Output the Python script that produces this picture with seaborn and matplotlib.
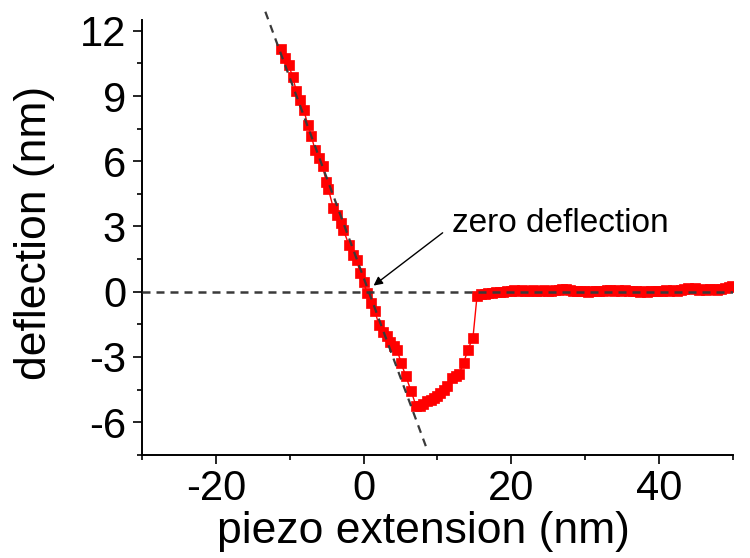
import numpy as np
import pandas as pd
import matplotlib
matplotlib.use("Agg")
import matplotlib.pyplot as plt
import seaborn as sns

# ---- data ----
approach_x = [-11.2, -10.7, -10.15, -9.6, -9.1, -8.65, -8.1, -7.57, -7.07, -6.57,
              -6.04, -5.54, -5.04, -4.77, -4.1, -3.6, -3.1, -2.74, -2.0, -1.4,
              -0.9, -0.5, 0.0, 0.45, 1.04, 1.53, 2.07, 2.6, 3.1, 3.56,
              4.05, 4.55, 5.09, 5.68, 6.44, 7.1, 7.6, 8.0, 8.6, 9.1,
              9.5, 10.0, 10.4, 10.9, 11.3, 12.0, 12.5, 12.9, 13.55, 14.1,
              14.8, 15.36]
approach_y = [11.18, 10.73, 10.45, 9.87, 9.23, 8.81, 8.37, 7.69, 7.14, 6.53,
              6.15, 5.76, 5.03, 4.72, 3.85, 3.55, 3.16, 2.85, 2.16, 1.70,
              1.45, 0.86, 0.45, -0.06, -0.52, -0.90, -1.52, -1.85, -2.05, -2.31,
              -2.50, -2.70, -3.28, -3.86, -4.58, -5.25, -5.25, -5.18, -5.04, -4.98,
              -4.89, -4.78, -4.66, -4.52, -4.35, -3.97, -3.90, -3.80, -3.28, -2.67,
              -2.13, -0.18]

plateau_x = [15.9, 16.4, 16.9, 17.4, 17.9, 18.4, 18.9, 19.4, 19.9, 20.4,
             20.9, 21.4, 21.9, 22.4, 22.9, 23.4, 23.9, 24.4, 24.9, 25.4,
             25.9, 26.4, 26.9, 27.4, 27.9, 28.4, 28.9, 29.4, 29.9, 30.4,
             30.9, 31.4, 31.9, 32.4, 32.9, 33.4, 33.9, 34.4, 34.9, 35.4,
             35.9, 36.4, 36.9, 37.4, 37.9, 38.4, 38.9, 39.4, 39.9, 40.4,
             40.9, 41.4, 41.9, 42.4, 42.9, 43.4, 43.9, 44.4, 44.9, 45.4,
             45.9, 46.4, 46.9, 47.4, 47.9, 48.4, 48.9, 49.4, 49.9]
plateau_y = [-0.12, -0.10, -0.08, -0.06, -0.02, -0.03, 0.00, 0.02, 0.05, 0.08,
             0.04, 0.06, 0.03, 0.05, 0.07, 0.04, 0.02, 0.06, 0.05, 0.03,
             0.07, 0.06, 0.12, 0.14, 0.09, 0.03, 0.05, 0.02, 0.04, 0.00,
             0.03, 0.01, 0.04, 0.02, 0.06, 0.08, 0.05, 0.07, 0.04, 0.06,
             0.03, 0.01, 0.04, 0.00, 0.02, -0.01, 0.03, 0.01, 0.04, 0.02,
             0.06, 0.05, 0.07, 0.04, 0.08, 0.12, 0.16, 0.13, 0.15, 0.10,
             0.12, 0.09, 0.11, 0.13, 0.10, 0.14, 0.18, 0.21, 0.24]

# contact-line fit (dashed)
fit_x = [-13.3, 8.6]
fit_slope = -0.92
fit_x0 = 0.7

x_ticks = [-20, 0, 20, 40]
y_ticks = [-6, -3, 0, 3, 6, 9, 12]

df = pd.DataFrame({"piezo": approach_x + plateau_x,
                   "defl": approach_y + plateau_y})

sns.set_style("ticks")
plt.rcParams["font.family"] = ["Liberation Sans", "DejaVu Sans"]
plt.rcParams["axes.unicode_minus"] = False
plt.rcParams["text.color"] = "black"
plt.rcParams["axes.labelcolor"] = "black"
plt.rcParams["xtick.color"] = "black"
plt.rcParams["ytick.color"] = "black"

fig = plt.figure(figsize=(7.5, 5.58), dpi=100)
ax = fig.add_axes([0.1893, 0.1851, 0.7880, 0.7791])

sns.lineplot(data=df, x="piezo", y="defl", sort=False, estimator=None,
             color="red", lw=1.0, marker="s", markersize=7.8,
             markeredgecolor="red", markeredgewidth=0.5, ax=ax, zorder=3)

fx = np.array(fit_x)
ax.plot(fx, fit_slope * (fx - fit_x0), color="#3a3a3a", lw=1.6,
        linestyle=(0, (3.6, 2.8)), zorder=4, clip_on=False)
ax.axhline(0, color="#3a3a3a", lw=1.8, linestyle=(0, (3.2, 2.4)), zorder=4)

ax.annotate("", xy=(1.35, 0.28), xytext=(10.7, 2.71),
            arrowprops=dict(arrowstyle="-|>", lw=1.0, color="black",
                            mutation_scale=13, shrinkA=0, shrinkB=0))
ax.text(12.0, 2.73, "zero deflection", fontsize=24, ha="left", va="baseline",
        color="black")

ax.set_xlim(-30, 50)
ax.set_ylim(-7.5, 12.5)
ax.set_xticks(x_ticks)
ax.set_yticks(y_ticks)
ax.set_xticks([-30, -10, 10, 30, 50], minor=True)
ax.set_yticks([-7.5, -4.5, -1.5, 1.5, 4.5, 7.5, 10.5], minor=True)

for s in ["top", "right"]:
    ax.spines[s].set_visible(False)
for s in ["left", "bottom"]:
    ax.spines[s].set_linewidth(1.4)
    ax.spines[s].set_color("black")

ax.tick_params(axis="both", which="major", length=6.5, width=1.2,
               labelsize=30, direction="out", color="black", pad=5)
ax.tick_params(axis="x", which="major", pad=4)
ax.tick_params(axis="both", which="minor", length=3.5, width=1.2,
               direction="out", color="black")

ax.set_xlabel("piezo extension (nm)", fontsize=32)
ax.set_ylabel("deflection (nm)", fontsize=32)
ax.xaxis.set_label_coords(0.4755, -0.13)
ax.yaxis.set_label_coords(-0.147, 0.51)

fig.savefig("out.png", dpi=100)
